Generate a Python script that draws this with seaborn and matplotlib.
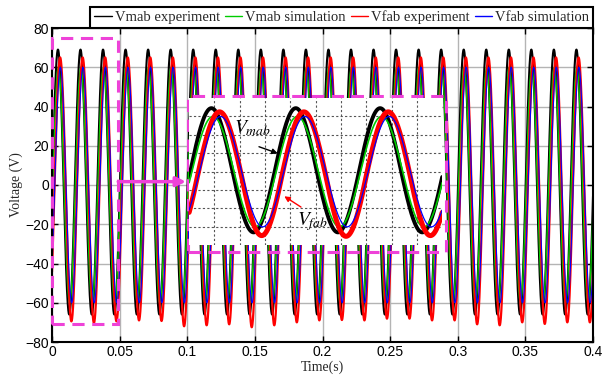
import numpy as np
import pandas as pd
import matplotlib
matplotlib.use("Agg")
import matplotlib.pyplot as plt
import seaborn as sns
from matplotlib.lines import Line2D
from matplotlib.patches import Rectangle

# ---- signal description (60 Hz line voltages) ----
series_names = ["Vmab experiment", "Vmab simulation", "Vfab experiment", "Vfab simulation"]
series_colors = ["#000000", "#00cc00", "#ff0000", "#0000ff"]
frequency_hz = 60.0
peak_time_s = [0.0044, 0.0047, 0.0060, 0.0062]
positive_peak_v = [69, 60, 65, 60]
negative_peak_v = [66, 60, 70, 60]
# depth of each negative half-cycle of the measured Vfab trace
vfab_exp_troughs = [69.5, 70.3, 69.5, 69.0, 69.3, 72.0, 71.5, 71.0, 72.5, 71.5, 70.0,
                    69.0, 68.8, 69.0, 68.1, 68.1, 69.0, 69.0, 71.0, 71.5, 70.0, 70.8, 70.0, 70.0]
main_widths = [1.5, 1.0, 1.6, 0.8]
inset_widths = [2.8, 1.2, 3.6, 0.9]

x_ticks = [0, 0.05, 0.1, 0.15, 0.2, 0.25, 0.3, 0.35, 0.4]
x_tick_labels = ["0", "0.05", "0.1", "0.15", "0.2", "0.25", "0.3", "0.35", "0.4"]
y_ticks = [-80, -60, -40, -20, 0, 20, 40, 60, 80]

magenta = "#ee42d8"

t = np.linspace(0, 0.4, 24001)


def waveform(tp, pos, neg, troughs=None):
    c = np.cos(2 * np.pi * frequency_hz * (t - tp))
    if troughs is None:
        neg_amp = neg
    else:
        k = np.clip(np.floor((t - tp) * frequency_hz).astype(int), 0, len(troughs) - 1)
        neg_amp = np.asarray(troughs)[k]
    return np.where(c >= 0, pos * c, neg_amp * c)


frames = []
for i, name in enumerate(series_names):
    tr = vfab_exp_troughs if name == "Vfab experiment" else None
    v = waveform(peak_time_s[i], positive_peak_v[i], negative_peak_v[i], tr)
    frames.append(pd.DataFrame({"time": t, "voltage": v, "series": name}))
data = pd.concat(frames, ignore_index=True)

sns.set_style("white")
plt.rcParams["mathtext.fontset"] = "stix"
plt.rcParams["font.family"] = ["Liberation Sans", "DejaVu Sans"]

fig = plt.figure(figsize=(6.02, 3.81), dpi=100)
ax = fig.add_axes([52 / 602, 1 - 342 / 381, (593 - 52) / 602, (342 - 28) / 381])

for i, name in enumerate(series_names):
    sns.lineplot(data=data[data.series == name], x="time", y="voltage", ax=ax,
                 color=series_colors[i], lw=main_widths[i], estimator=None,
                 sort=False, legend=False, zorder=2)

ax.set_xlim(0, 0.4)
ax.set_ylim(-80, 80)
ax.set_xticks(x_ticks)
ax.set_xticklabels(x_tick_labels)
ax.set_yticks(y_ticks)
ax.grid(True, color="#b4b4b4", lw=1.0, zorder=0)
ax.set_axisbelow(True)
ax.tick_params(direction="in", length=4, width=1, labelsize=10, top=True, right=True,
               bottom=True, left=True, pad=2, colors="black")
for s in ax.spines.values():
    s.set_color("black")
    s.set_linewidth(1.5)

serif = {"family": ["Liberation Serif", "DejaVu Serif"], "size": 10}
ax.set_xlabel("Time(s)", fontdict=serif, labelpad=1)
ax.set_ylabel("Voltage (V)", fontdict=serif, labelpad=2)

handles = [Line2D([], [], color=c, lw=1.0) for c in series_colors]
leg = ax.legend(handles, series_names, loc="lower right", bbox_to_anchor=(1, 1),
                ncol=4, frameon=True, fancybox=False, edgecolor="black",
                borderaxespad=0, prop={"family": ["Liberation Serif"], "size": 10.5},
                handlelength=1.2, handletextpad=0.2, columnspacing=0.35,
                borderpad=0.25)
leg.get_frame().set_linewidth(1.5)
leg.get_frame().set_alpha(1)

# zoomed-window markers
dash = (0, (4, 2.5))
ax.add_patch(Rectangle((0.0, -71), 0.049, 146, fill=False, ec=magenta, lw=2.2,
                       ls=dash, zorder=3, clip_on=False))
ax.add_patch(Rectangle((0.1006, -34.3), 0.1908, 79.6, fill=False, ec=magenta, lw=2.2,
                       ls=dash, zorder=3))
ax.annotate("", xy=(0.099, 1.7), xytext=(0.049, 1.7),
            arrowprops=dict(arrowstyle="-|>", color=magenta, lw=2.5,
                            mutation_scale=14, shrinkA=0, shrinkB=0), zorder=4)

# inset: first 0.05 s enlarged
axin = ax.inset_axes([0.1014, -30.7, 0.1871, 75.0], transform=ax.transData, zorder=5)
win = data[data.time <= 0.05]
for i, name in enumerate(series_names):
    sns.lineplot(data=win[win.series == name], x="time", y="voltage", ax=axin,
                 color=series_colors[i], lw=inset_widths[i], estimator=None,
                 sort=False, legend=False)
axin.set_xlim(0, 0.05)
axin.set_ylim(-80, 80)
axin.set_xticks(np.arange(0.005, 0.0499, 0.005))
axin.set_yticks([-60, -40, -20, 0, 20, 40, 60])
axin.tick_params(length=0, labelbottom=False, labelleft=False)
axin.set_xlabel("")
axin.set_ylabel("")
axin.grid(True, color="#555555", lw=0.8, ls=(0, (2, 2)))
axin.set_axisbelow(True)
for s in axin.spines.values():
    s.set_visible(False)
axin.set_facecolor("white")

axin.text(0.0089, 41.5, r"$V_{mab}$", fontsize=14, color="black")
axin.text(0.0214, -58.2, r"$V_{fab}$", fontsize=14, color="black")
axin.annotate("", xy=(0.0175, 19.9), xytext=(0.0138, 27.1),
              arrowprops=dict(arrowstyle="-|>", color="black", lw=1.0,
                              mutation_scale=8, shrinkA=0, shrinkB=0))
axin.annotate("", xy=(0.0188, -26.8), xytext=(0.0221, -38.5),
              arrowprops=dict(arrowstyle="-|>", color="red", lw=1.0,
                              mutation_scale=8, shrinkA=0, shrinkB=0))

fig.savefig("out.png", dpi=100)
